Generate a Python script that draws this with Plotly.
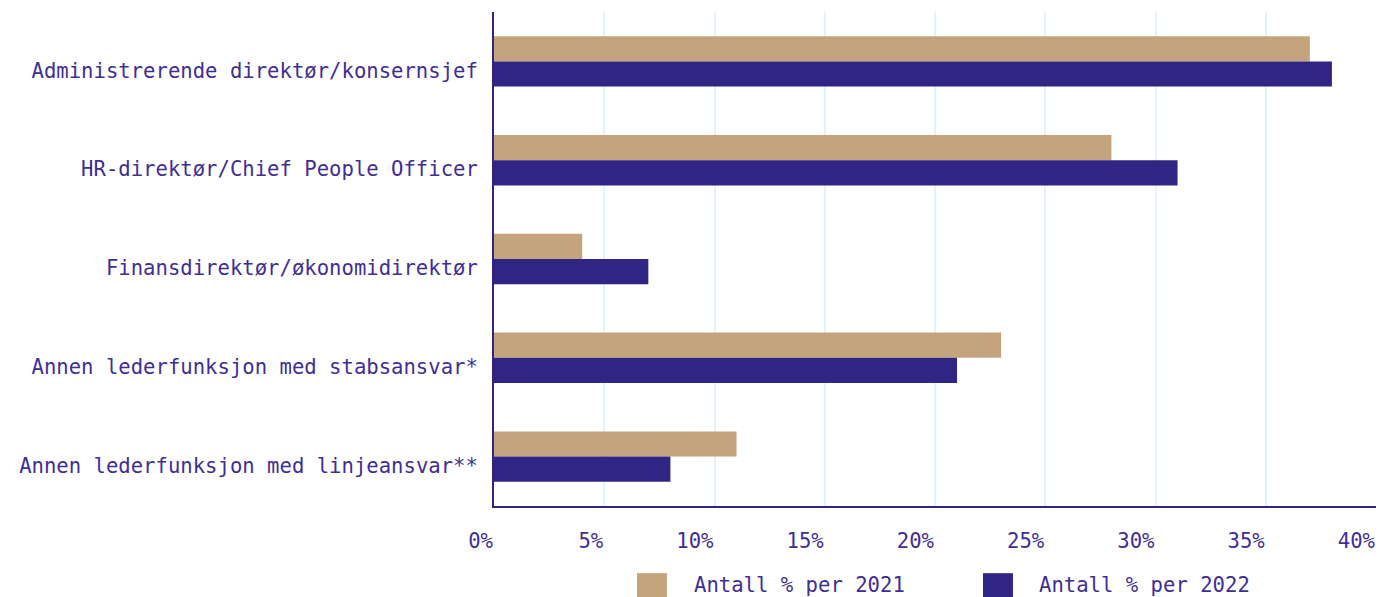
import plotly.graph_objects as go

categories = [
    "Administrerende direktør/konsernsjef",
    "HR-direktør/Chief People Officer",
    "Finansdirektør/økonomidirektør",
    "Annen lederfunksjon med stabsansvar*",
    "Annen lederfunksjon med linjeansvar**",
]
values_2021 = [37, 28, 4, 23, 11]
values_2022 = [38, 31, 7, 21, 8]
series_names = ["Antall % per 2021", "Antall % per 2022"]
tick_vals = [0, 5, 10, 15, 20, 25, 30, 35, 40]
tick_text = ["0%", "5%", "10%", "15%", "20%", "25%", "30%", "35%", "40%"]

TAN = "#C4A47C"
PURPLE = "#312584"
TEXT = "#3F2E96"
GRID = "#E3F2FC"
FONT = "DejaVu Sans Mono"
FS = 20.6

fig = go.Figure()
fig.add_trace(go.Bar(y=categories, x=values_2021, orientation="h", name=series_names[0],
                     marker=dict(color=TAN, line=dict(width=0)), showlegend=False))
fig.add_trace(go.Bar(y=categories, x=values_2022, orientation="h", name=series_names[1],
                     marker=dict(color=PURPLE, line=dict(width=0)), showlegend=False))

fig.update_layout(
    width=1380, height=597,
    margin=dict(l=494, r=4, t=12, b=91),
    paper_bgcolor="white", plot_bgcolor="white",
    barmode="group", bargap=0.49, bargroupgap=0,
    font=dict(family=FONT, size=FS, color=TEXT),
)
fig.update_xaxes(
    range=[0, 40], tickvals=tick_vals, ticktext=tick_text,
    showgrid=True, gridcolor=GRID, gridwidth=2,
    showline=True, linecolor=PURPLE, linewidth=2,
    zeroline=False, ticks="", ticklabelposition="outside left",
    ticklabelstandoff=15, tickfont=dict(family=FONT, size=FS, color=TEXT),
)
fig.update_yaxes(
    autorange="reversed", showgrid=False,
    showline=True, linecolor=PURPLE, linewidth=2,
    ticks="", ticklabelstandoff=10, ticklabelshift=-9,
    tickfont=dict(family=FONT, size=FS, color=TEXT),
)

# legend drawn manually (large square swatches)
legend_items = [(0.1621, 0.1961, 0.2245, TAN, series_names[0]),
                (0.5544, 0.5884, 0.6156, PURPLE, series_names[1])]
for x0, x1, xt, col, name in legend_items:
    fig.add_shape(type="rect", xref="paper", yref="paper", x0=x0, x1=x1, y0=-0.1970, y1=-0.1360,
                  fillcolor=col, line=dict(width=0))
    fig.add_annotation(xref="paper", yref="paper", x=xt, y=-0.1590, text=name, showarrow=False,
                       xanchor="left", yanchor="middle", font=dict(family=FONT, size=FS, color=TEXT))

fig.write_html("out.html")
